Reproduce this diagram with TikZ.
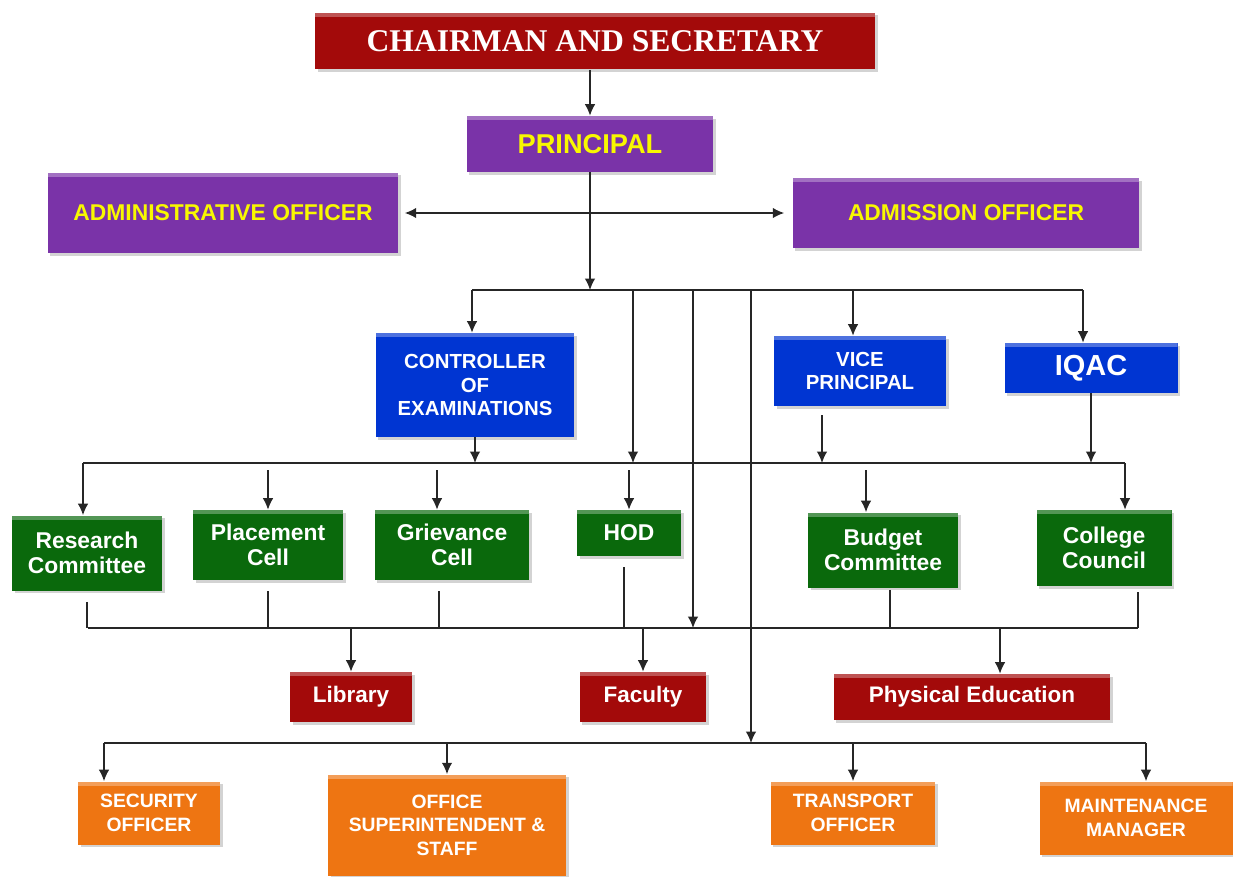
\documentclass[tikz,border=0pt]{standalone}
\usepackage{fontspec}
\setmainfont{Liberation Sans}
\newfontfamily\titlefont{Liberation Serif}
\usepackage{tikz}
\usetikzlibrary{arrows.meta,shadows,calc}

\definecolor{chairred}{HTML}{A30A0A}
\definecolor{officepurple}{HTML}{7A33A8}
\definecolor{textyellow}{HTML}{F8F800}
\definecolor{deptblue}{HTML}{0035D2}
\definecolor{cellgreen}{HTML}{0A690C}
\definecolor{stafforange}{HTML}{EE7512}

\tikzset{
  box/.style={rectangle, inner sep=2pt, align=center, text=white, font=\bfseries,
    drop shadow={shadow xshift=1.5pt, shadow yshift=-1.5pt, opacity=0.35},
    path picture={\fill[white,opacity=0.3] (path picture bounding box.north west) rectangle ([yshift=-2.5pt]path picture bounding box.north east);}},
  redbox/.style={box, fill=chairred, font=\fontsize{12.8}{15}\selectfont\bfseries},
  purplebox/.style={box, fill=officepurple, text=textyellow, font=\fontsize{13}{15}\selectfont\bfseries},
  bluebox/.style={box, fill=deptblue, font=\fontsize{11.6}{13.3}\selectfont\bfseries},
  greenbox/.style={box, fill=cellgreen, font=\fontsize{13}{14.3}\selectfont\bfseries},
  orangebox/.style={box, fill=stafforange, font=\fontsize{11}{13.3}\selectfont\bfseries},
  link/.style={line width=0.8pt, black!85},
  arr/.style={link, -{Latex[length=6.5pt,width=6pt]}},
  both/.style={link, {Latex[length=6.5pt,width=6pt]}-{Latex[length=6.5pt,width=6pt]}},
  tail/.style={link, shorten <=0.22cm}
}

\begin{document}
\begin{tikzpicture}[x=0.02cm, y=-0.02cm]

\useasboundingbox (0,0) rectangle (1233,876);

% top
\node[redbox, minimum width=11.2cm, minimum height=1.14cm, font=\titlefont\fontsize{18}{20}\selectfont\bfseries] (chair) at (595,41) {CHAIRMAN AND SECRETARY};
\node[purplebox, minimum width=4.94cm, minimum height=1.12cm, font=\fontsize{15.5}{18}\selectfont\bfseries] (prin) at (590,144) {PRINCIPAL};
\node[purplebox, minimum width=7.02cm, minimum height=1.62cm] (admin) at (223,213) {ADMINISTRATIVE OFFICER};
\node[purplebox, minimum width=6.94cm, minimum height=1.40cm] (admit) at (966,213) {ADMISSION OFFICER};

% blue row
\node[bluebox, minimum width=3.98cm, minimum height=2.08cm] (coe) at (475,385) {CONTROLLER\\OF\\EXAMINATIONS};
\node[bluebox, minimum width=3.44cm, minimum height=1.40cm] (vp) at (860,371) {VICE\\PRINCIPAL};
\node[bluebox, minimum width=3.46cm, minimum height=1.00cm, font=\fontsize{16.5}{18}\selectfont\bfseries] (iqac) at (1091,368) {IQAC};

% green row
\node[greenbox, minimum width=3.0cm, minimum height=1.5cm] (rc) at (87,553) {Research\\Committee};
\node[greenbox, minimum width=3.0cm, minimum height=1.4cm] (pc) at (268,545) {Placement\\Cell};
\node[greenbox, minimum width=3.1cm, minimum height=1.4cm] (gc) at (452,545) {Grievance\\Cell};
\node[greenbox, minimum width=2.08cm, minimum height=0.92cm] (hod) at (629,533) {HOD};
\node[greenbox, minimum width=3.0cm, minimum height=1.5cm] (bc) at (883,550) {Budget\\Committee};
\node[greenbox, minimum width=2.7cm, minimum height=1.52cm] (cc) at (1104,548) {College\\Council};

% red row
\node[redbox, minimum width=2.44cm, minimum height=1.0cm] (lib) at (351,697) {Library};
\node[redbox, minimum width=2.54cm, minimum height=1.0cm] (fac) at (643,697) {Faculty};
\node[redbox, minimum width=5.54cm, minimum height=0.92cm] (pe) at (972,697) {Physical Education};

% orange row
\node[orangebox, minimum width=2.84cm, minimum height=1.26cm] (sec) at (149,813) {SECURITY\\OFFICER};
\node[orangebox, minimum width=4.76cm, minimum height=2.02cm] (osup) at (447,825) {OFFICE\\SUPERINTENDENT \&\\STAFF};
\node[orangebox, minimum width=3.3cm, minimum height=1.26cm] (trans) at (853,813) {TRANSPORT\\OFFICER};
\node[orangebox, minimum width=3.86cm, minimum height=1.46cm] (maint) at (1136,818) {MAINTENANCE\\MANAGER};

% bars
\coordinate (t1) at (472,290);
\coordinate (t2) at (633,290);
\coordinate (t3) at (693,290);
\coordinate (t4) at (751,290);
\coordinate (t5) at (853,290);
\coordinate (t6) at (1083,290);
\coordinate (m1) at (83,463);
\coordinate (m2) at (1125,463);
\coordinate (l1) at (88,628);
\coordinate (l2) at (1138,628);
\coordinate (s1) at (104,743);
\coordinate (s2) at (1146,743);

\coordinate (vpa) at ($(vp.south)+(-38,9)$);
\coordinate (gca) at ($(gc.north)+(-15,0)$);
\coordinate (bca) at ($(bc.north)+(-17,0)$);
\coordinate (gcb) at ($(gc.south)+(-13,0)$);
\coordinate (bcb) at ($(bc.south)+(7,0)$);
\coordinate (pea) at ($(pe.north)+(28,0)$);

\draw[arr] (chair.south -| prin.north) -- (prin.north);
\draw[both] ([xshift=0.12cm]admin.east) -- ([xshift=-0.16cm]admit.west);
\draw[arr] (prin.south) -- (prin.south |- t1);

\draw[link] (t1) -- (t6);
\draw[arr] (t1) -- (t1 |- coe.north);
\draw[arr] (t2) -- (t2 |- m1);
\draw[arr] (t3) -- (t3 |- l1);
\draw[arr] (t4) -- (t4 |- s1);
\draw[arr] (t5) -- (t5 |- vp.north);
\draw[arr] (t6) -- (t6 |- iqac.north);

\draw[link] (m1) -- (m2);
\draw[arr] (coe.south) -- (coe.south |- m1);
\draw[arr] (vpa) -- (vpa |- m1);
\draw[arr] (iqac.south) -- (iqac.south |- m1);
\draw[arr] (m1) -- (m1 |- rc.north);
\draw[arr, shorten <=0.14cm] (pc.north |- m1) -- (pc.north);
\draw[arr, shorten <=0.14cm] (gca |- m1) -- (gca);
\draw[arr, shorten <=0.14cm] (hod.north |- m1) -- (hod.north);
\draw[arr, shorten <=0.14cm] (bca |- m1) -- (bca);
\draw[arr] (m2) -- (m2 |- cc.north);

\draw[link] (l1) -- (l2);
\draw[tail] (rc.south) -- (rc.south |- l1);
\draw[tail] (pc.south) -- (pc.south |- l1);
\draw[tail] (gcb) -- (gcb |- l1);
\draw[tail] ([xshift=-0.1cm]hod.south) -- ([xshift=-0.1cm]hod.south |- l1);
\draw[link, shorten <=0.04cm] (bcb) -- (bcb |- l1);
\draw[link, shorten <=0.12cm] (cc.south -| l2) -- (l2);
\draw[arr] (lib.north |- l1) -- (lib.north);
\draw[arr] (fac.north |- l1) -- (fac.north);
\draw[arr] (pea |- l1) -- (pea);

\draw[link] (s1) -- (s2);
\draw[arr] (s1) -- (s1 |- sec.north);
\draw[arr] (osup.north |- s1) -- (osup.north);
\draw[arr] (trans.north |- s1) -- (trans.north);
\draw[arr] (s2) -- (s2 |- maint.north);

\end{tikzpicture}
\end{document}
